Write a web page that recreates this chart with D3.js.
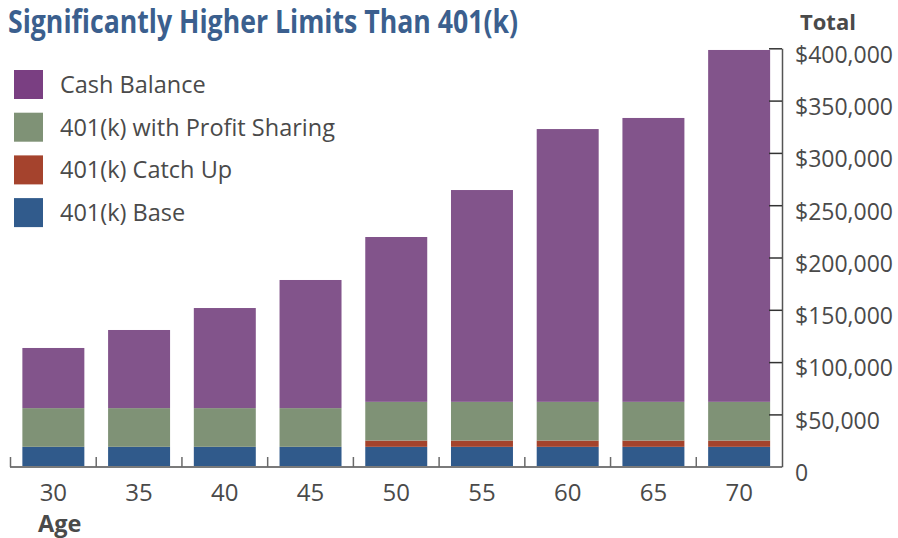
<!DOCTYPE html>
<html>
<head>
<meta charset="utf-8">
<script src="https://cdn.jsdelivr.net/npm/d3@7"></script>
<style>
  body { margin: 0; background: #fff; }
  text { font-family: "Open Sans", "Noto Sans", sans-serif; fill: #4a4a4a; }
</style>
</head>
<body>
<div id="chart"></div>
<script>
// data (dollars)
const ages = ["30", "35", "40", "45", "50", "55", "60", "65", "70"];
const base401k = [19000, 19000, 19000, 19000, 19000, 19000, 19000, 19000, 19000];
const catchUp = [0, 0, 0, 0, 6000, 6000, 6000, 6000, 6000];
const profitSharing = [37000, 37000, 37000, 37000, 37000, 37000, 37000, 37000, 37000];
const cashBalance = [57500, 74700, 95700, 122500, 157600, 202500, 260800, 271400, 336400];

const seriesKeys = ["base", "catchUp", "profit", "cash"];
const seriesNames = ["401(k) Base", "401(k) Catch Up", "401(k) with Profit Sharing", "Cash Balance"];
const barColors = ["#305a8b", "#a4432c", "#7f9276", "#82548b"];
const legendColors = ["#315b8c", "#a5432d", "#7f9276", "#7a3f82"];
const yTicks = [0, 50000, 100000, 150000, 200000, 250000, 300000, 350000, 400000];

const width = 898, height = 538;

const rows = ages.map((a, i) => ({
    age: a,
    base: base401k[i],
    catchUp: catchUp[i],
    profit: profitSharing[i],
    cash: cashBalance[i]
}));

const svg = d3.select("#chart")
    .append("svg")
    .attr("width", width)
    .attr("height", height);

const xScale = d3.scaleBand()
    .domain(ages)
    .range([10.5, 782])
    .paddingInner(0.277)
    .paddingOuter(0.1385);

const yScale = d3.scaleLinear()
    .domain([0, 400000])
    .range([466.7, 48.3]);

const stacked = d3.stack().keys(seriesKeys)(rows);

// bars
svg.append("g")
    .selectAll("g")
    .data(stacked)
    .join("g")
    .attr("fill", (d, i) => barColors[i])
    .selectAll("rect")
    .data(d => d)
    .join("rect")
    .attr("x", d => xScale(d.data.age))
    .attr("y", d => yScale(d[1]))
    .attr("width", xScale.bandwidth())
    .attr("height", d => yScale(d[0]) - yScale(d[1]));

// bottom axis: baseline with ticks at the band edges
const step = xScale.step();
const edges = d3.range(ages.length + 1).map(i => xScale.range()[0] + i * step);
const xAxisG = svg.append("g");
xAxisG.append("line")
    .attr("x1", 10).attr("x2", 782)
    .attr("y1", 467).attr("y2", 467)
    .attr("stroke", "#7a7a7a").attr("stroke-width", 2);
xAxisG.selectAll("line.tk")
    .data(edges.slice(0, -1))
    .join("line")
    .attr("class", "tk")
    .attr("x1", d => d).attr("x2", d => d)
    .attr("y1", 457).attr("y2", 467)
    .attr("stroke", "#6a6a6a").attr("stroke-width", 1.5);
xAxisG.selectAll("text")
    .data(ages)
    .join("text")
    .attr("x", d => xScale(d) + xScale.bandwidth() / 2)
    .attr("y", 501)
    .attr("text-anchor", "middle")
    .attr("font-size", 24)
    .text(d => d);

svg.append("text")
    .attr("x", 38).attr("y", 532)
    .attr("font-size", 23.5).attr("font-weight", "bold")
    .text("Age");

// right axis
const yAxis = d3.axisRight(yScale)
    .tickValues(yTicks)
    .tickSize(0)
    .tickPadding(13)
    .tickFormat(d => d === 0 ? "0" : "$" + d3.format(",")(d));

const yAxisG = svg.append("g")
    .attr("transform", "translate(782,0)")
    .call(yAxis);
yAxisG.select(".domain").attr("stroke", "#555").attr("stroke-width", 1.5);
yAxisG.selectAll(".tick text")
    .attr("font-family", "Open Sans, Noto Sans, sans-serif")
    .attr("font-size", 23)
    .attr("fill", "#4a4a4a")
    .attr("dy", "0.6em");
yAxisG.selectAll(".tick")
    .filter(d => d > 0)
    .append("line")
    .attr("x1", -13).attr("x2", 0)
    .attr("stroke", "#333").attr("stroke-width", 1.5);

svg.append("text")
    .attr("x", 800).attr("y", 30)
    .attr("font-size", 22).attr("font-weight", "bold")
    .text("Total");

// title
svg.append("text")
    .attr("x", 8).attr("y", 33)
    .attr("font-family", "'Liberation Sans Narrow', 'DejaVu Sans Condensed', sans-serif")
    .attr("font-weight", "bold")
    .attr("font-size", 33)
    .attr("textLength", 510)
    .attr("lengthAdjust", "spacingAndGlyphs")
    .style("fill", "#3b5f8e")
    .text("Significantly Higher Limits Than 401(k)");

// legend, top entry is Cash Balance
const legendOrder = [3, 2, 1, 0];
const legend = svg.append("g")
    .selectAll("g")
    .data(legendOrder)
    .join("g")
    .attr("transform", (d, i) => `translate(14,${70 + i * 42.7})`);
legend.append("rect")
    .attr("width", 29).attr("height", 29)
    .attr("fill", d => legendColors[d]);
legend.append("text")
    .attr("x", 46).attr("y", 23)
    .attr("font-size", 23.5)
    .text(d => seriesNames[d]);
</script>
</body>
</html>
